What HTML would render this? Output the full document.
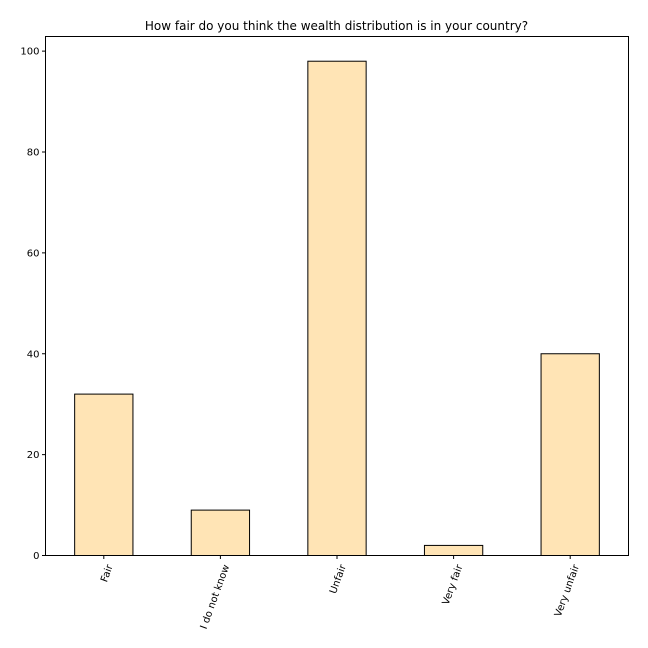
<!DOCTYPE html>
<html><head><meta charset="utf-8"><style>
body{margin:0;background:#fff}
svg{display:block;font-family:"DejaVu Sans","Liberation Sans",sans-serif}
</style></head><body>
<svg id="chart" width="648" height="648">
<rect width="648" height="648" fill="#fff"/>
<text x="336.5" y="30" text-anchor="middle" font-size="12">How fair do you think the wealth distribution is in your country?</text>
<g id="bars"></g>
<g id="yaxis"></g>
<g id="xaxis"></g>
<rect x="45.5" y="36.5" width="583" height="519" fill="none" stroke="#000" stroke-width="1"/>
</svg>
<script>
const categories = ["Fair","I do not know","Unfair","Very fair","Very unfair"];
const values = [32, 9, 98, 2, 40];
const yTicks = [0, 20, 40, 60, 80, 100];

const L=45.5, R=628.5, T=36.5, B=555.5;
const yMax = Math.max(...values)*1.05;
const y = v => B - v/yMax*(B-T);
const step = (R-L)/categories.length;
const x = i => L + step*(i+0.5);
const NS="http://www.w3.org/2000/svg";
const mk=(t,a)=>{const e=document.createElementNS(NS,t);for(const k in a)e.setAttribute(k,a[k]);return e;};
const bars=document.getElementById('bars'), ya=document.getElementById('yaxis'), xa=document.getElementById('xaxis');
values.forEach((v,i)=>{
  const bw=step*0.5;
  const r=mk('rect',{x:x(i)-bw/2,y:y(v),width:bw,height:B-y(v),fill:'#ffe4b5',stroke:'#000','stroke-width':1});
  
  
  bars.appendChild(r);
  const tk=mk('line',{x1:x(i),x2:x(i),y1:B,y2:B+3.5,stroke:'#000'});
  
  
  xa.appendChild(tk);
  const tx=x(i)+9, ty=566;
  const t=mk('text',{x:tx,y:ty,'text-anchor':'end','font-size':10,transform:`rotate(-70 ${tx} ${ty})`});
  t.textContent=categories[i];
  
  
  xa.appendChild(t);
});
yTicks.forEach(v=>{
  const tk=mk('line',{x1:L-3.5,x2:L,y1:y(v),y2:y(v),stroke:'#000'});
  
  
  ya.appendChild(tk);
  const t=mk('text',{x:L-6,y:y(v)+3.5,'text-anchor':'end','font-size':10});
  t.textContent=v;
  
  
  ya.appendChild(t);
});
</script>
</body></html>
